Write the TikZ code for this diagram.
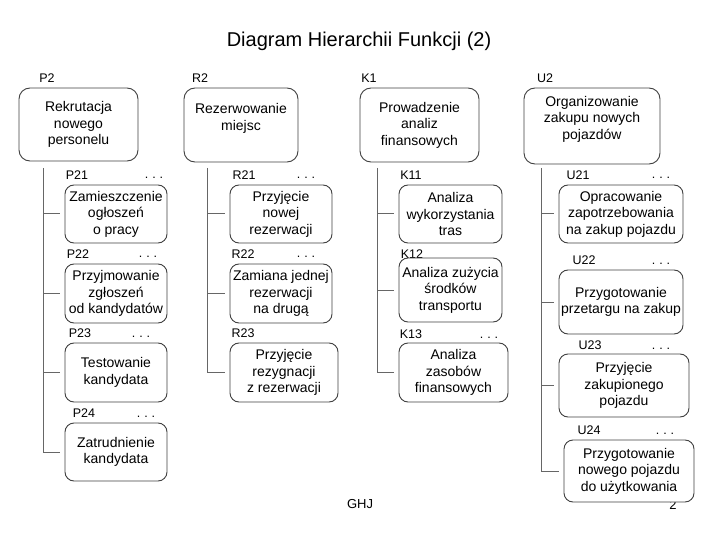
\documentclass[tikz,border=0pt]{standalone}
\usepackage{fontspec}
\setmainfont{Liberation Sans}
\newcommand{\mydots}{.\hspace{4pt}.\hspace{4pt}.}
\begin{document}
\begin{tikzpicture}[x=1pt,y=-1pt,
  box/.style={draw=black!75, line width=0.9pt, rounded corners=11pt, fill=white,
    align=center, inner sep=0pt, font=\fontsize{14}{16.6}\selectfont},
  tag/.style={inner sep=0pt, font=\fontsize{12.5}{14}\selectfont},
  dts/.style={inner sep=0pt, anchor=base, yshift=-4pt, font=\fontsize{12.5}{14}\selectfont},
  trunk/.style={draw=black!60, line width=1pt},
  stub/.style={draw=black!60, line width=1pt, shorten >=5pt}]
\useasboundingbox (0,0) rectangle (720,540);
\node[inner sep=0pt, font=\fontsize{20}{24}\selectfont] (title) at (359,41) {Diagram Hierarchii Funkcji (2)};
\node[tag, font=\fontsize{13}{15}\selectfont] (ghj) at (360,504) {GHJ};
\node[tag, font=\fontsize{13}{15}\selectfont] (pg) at (673,505) {2};
% top level
\node[tag] (lP2) at (47,78) {P2};
\node[tag] (lR2) at (200,78) {R2};
\node[tag] (lK1) at (369,78) {K1};
\node[tag] (lU2) at (545,78) {U2};
\node[box, minimum width=119pt, minimum height=73pt] (P2) at (78.5,124.5) {Rekrutacja\\nowego\\personelu};
\node[box, minimum width=114pt, minimum height=74pt] (R2) at (241,125) {Rezerwowanie\\miejsc\\\mbox{}};
\node[box, minimum width=119pt, minimum height=74pt] (K1) at (419.5,125) {Prowadzenie\\analiz\\finansowych};
\node[box, minimum width=136pt, minimum height=76pt] (U2) at (592,126) {Organizowanie\\zakupu nowych\\pojazdów\\\mbox{}};
% P column
\node[tag] (lP21) at (77,175) {P21};  \node[dts] (dP21) at (154,175) {\mydots};
\node[tag] (lP22) at (78,254) {P22};  \node[dts] (dP22) at (148,254) {\mydots};
\node[tag] (lP23) at (80,333) {P23};  \node[dts] (dP23) at (141,333) {\mydots};
\node[tag] (lP24) at (84,413) {P24};  \node[dts] (dP24) at (146,413) {\mydots};
\node[box, rounded corners=9pt, minimum width=102pt, minimum height=58pt] (P21) at (116,214) {Zamieszczenie\\ogłoszeń\\o pracy};
\node[box, rounded corners=9pt, minimum width=102pt, minimum height=59pt] (P22) at (116,293.5) {Przyjmowanie\\zgłoszeń\\od kandydatów};
\node[box, rounded corners=9pt, minimum width=102pt, minimum height=59pt] (P23) at (116,372.5) {Testowanie\\kandydata};
\node[box, rounded corners=9pt, minimum width=102pt, minimum height=58pt] (P24) at (116,452) {Zatrudnienie\\kandydata};
\coordinate (tP) at (43,168);
\draw[stub] (tP |- P21.west) -- (P21.west);
\draw[stub] (tP |- P22.west) -- (P22.west);
\draw[stub] (tP |- P23.west) -- (P23.west);
\draw[trunk, shorten >=5pt] (tP) |- (P24.west);
% R column
\node[tag] (lR21) at (244,175) {R21};  \node[dts] (dR21) at (306,175) {\mydots};
\node[tag] (lR22) at (243,254) {R22};  \node[dts] (dR22) at (306,254) {\mydots};
\node[tag] (lR23) at (243,333) {R23};
\node[box, rounded corners=9pt, minimum width=102pt, minimum height=58pt] (R21) at (281,214) {Przyjęcie\\nowej\\rezerwacji};
\node[box, rounded corners=9pt, minimum width=102pt, minimum height=59pt] (R22) at (281,293.5) {Zamiana jednej\\rezerwacji\\na drugą};
\node[box, rounded corners=9pt, minimum width=108pt, minimum height=59pt] (R23) at (284,372.5) {Przyjęcie\\rezygnacji\\z rezerwacji};
\coordinate (tR) at (207,168);
\draw[stub] (tR |- R21.west) -- (R21.west);
\draw[stub] (tR |- R22.west) -- (R22.west);
\draw[trunk, shorten >=5pt] (tR) |- (R23.west);
% K column
\node[tag] (lK11) at (411,175) {K11};
\node[tag] (lK12) at (412,254) {K12};
\node[tag] (lK13) at (411,334) {K13};  \node[dts] (dK13) at (489,334) {\mydots};
\node[box, rounded corners=9pt, minimum width=103pt, minimum height=58pt] (K11) at (450.5,214) {Analiza\\wykorzystania\\tras};
\node[box, rounded corners=9pt, minimum width=103pt, minimum height=64pt] (K12) at (450.5,290) {Analiza zużycia\\środków\\transportu};
\node[box, rounded corners=9pt, minimum width=109pt, minimum height=59pt] (K13) at (453.5,372.5) {Analiza\\zasobów\\finansowych};
\coordinate (tK) at (377,168);
\draw[stub] (tK |- K11.west) -- (K11.west);
\draw[stub] (tK |- K12.west) -- (K12.west);
\draw[trunk, shorten >=5pt] (tK) |- (K13.west);
% U column
\node[tag] (lU21) at (578,175) {U21};  \node[dts] (dU21) at (661,175) {\mydots};
\node[tag] (lU22) at (584,260) {U22};  \node[dts] (dU22) at (661,260) {\mydots};
\node[tag] (lU23) at (590,345) {U23};  \node[dts] (dU23) at (661,345) {\mydots};
\node[tag] (lU24) at (589,430) {U24};  \node[dts] (dU24) at (665,430) {\mydots};
\node[box, rounded corners=9pt, minimum width=124pt, minimum height=58pt] (U21) at (621,214) {Opracowanie\\zapotrzebowania\\na zakup pojazdu};
\node[box, rounded corners=9pt, minimum width=124pt, minimum height=64pt] (U22) at (621,302) {Przygotowanie\\przetargu na zakup};
\node[box, rounded corners=9pt, minimum width=130pt, minimum height=63pt] (U23) at (624,385.5) {Przyjęcie\\zakupionego\\pojazdu};
\node[box, rounded corners=9pt, minimum width=130pt, minimum height=62pt] (U24) at (629,471) {Przygotowanie\\nowego pojazdu\\do użytkowania};
\coordinate (tU) at (541,168);
\draw[stub] (tU |- U21.west) -- (U21.west);
\draw[stub] (tU |- U22.west) -- (U22.west);
\draw[stub] (tU |- U23.west) -- (U23.west);
\draw[trunk, shorten >=5pt] (tU) |- (U24.west);
\end{tikzpicture}
\end{document}
